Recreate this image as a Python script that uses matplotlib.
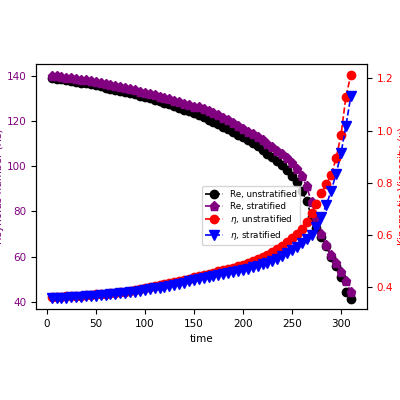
import matplotlib
matplotlib.use("Agg")
import matplotlib.pyplot as plt

# ----------------------------
# Data
# ----------------------------
time = list(range(5, 311, 5))

re_unstrat = [139.0, 138.7, 138.4, 138.1, 137.8, 137.4, 137.0, 136.6, 136.2, 135.8,
              135.3, 134.8, 134.3, 133.8, 133.3, 132.8, 132.3, 131.8, 131.2, 130.6,
              130.0, 129.4, 128.7, 128.0, 127.3, 126.6, 125.8, 125.0, 124.2, 123.4,
              122.5, 121.6, 120.6, 119.6, 118.6, 117.5, 116.4, 115.2, 114.0, 112.8,
              111.5, 110.1, 108.7, 107.2, 105.6, 104.0, 102.2, 100.3, 98.2, 95.8,
              92.8, 89.2, 84.5, 77.6, 72.5, 68.5, 64.5, 60.0, 56.0, 51.0,
              44.4, 41.3]

re_strat = [140.0, 139.8, 139.5, 139.2, 138.9, 138.6, 138.3, 137.9, 137.5, 137.1,
            136.7, 136.3, 135.9, 135.5, 135.0, 134.5, 134.0, 133.5, 133.0, 132.5,
            132.0, 131.4, 130.8, 130.2, 129.6, 129.0, 128.4, 127.7, 127.0, 126.3,
            126.2, 125.4, 124.5, 123.6, 122.6, 121.5, 120.4, 119.2, 117.9, 116.5,
            115.3, 114.1, 112.8, 111.5, 110.0, 108.5, 106.9, 105.2, 103.4, 101.4,
            98.8, 95.5, 91.0, 84.0, 77.0, 70.0, 65.0, 60.6, 57.0, 53.0,
            49.0, 44.4]

eta_unstrat = [0.362, 0.363, 0.364, 0.365, 0.366, 0.367, 0.368, 0.370, 0.371, 0.373,
               0.374, 0.376, 0.378, 0.380, 0.382, 0.384, 0.386, 0.389, 0.392, 0.396,
               0.400, 0.404, 0.408, 0.412, 0.416, 0.420, 0.424, 0.428, 0.433, 0.440,
               0.444, 0.448, 0.452, 0.456, 0.461, 0.465, 0.470, 0.475, 0.480, 0.485,
               0.492, 0.499, 0.507, 0.515, 0.524, 0.535, 0.547, 0.560, 0.574, 0.588,
               0.605, 0.625, 0.651, 0.683, 0.720, 0.760, 0.795, 0.830, 0.894, 0.983,
               1.130, 1.213]

eta_strat = [0.358, 0.359, 0.360, 0.361, 0.362, 0.363, 0.364, 0.365, 0.366, 0.368,
             0.369, 0.371, 0.373, 0.375, 0.377, 0.379, 0.381, 0.384, 0.387, 0.390,
             0.393, 0.396, 0.399, 0.402, 0.406, 0.410, 0.414, 0.418, 0.423, 0.428,
             0.432, 0.436, 0.440, 0.444, 0.448, 0.452, 0.456, 0.460, 0.463, 0.466,
             0.471, 0.476, 0.482, 0.488, 0.495, 0.502, 0.510, 0.519, 0.530, 0.543,
             0.556, 0.570, 0.585, 0.600, 0.632, 0.670, 0.715, 0.770, 0.834, 0.913,
             1.018, 1.132]

# ----------------------------
# Plot
# ----------------------------
fig = plt.figure(figsize=(4, 4), dpi=100)
ax = fig.add_axes([0.09, 0.2275, 0.8275, 0.6125])
ax2 = ax.twinx()

l1, = ax.plot(time, re_unstrat, "--o", color="black", ms=6, lw=1.2, label="Re, unstratified")
l2, = ax.plot(time, re_strat, "--p", color="purple", ms=6.5, lw=1.2, label="Re, stratified")
l3, = ax2.plot(time, eta_unstrat, "--o", color="red", ms=6, lw=1.2, label=r"$\eta$, unstratified")
l4, = ax2.plot(time, eta_strat, "--v", color="blue", ms=6.5, lw=1.2, label=r"$\eta$, stratified")

ax.set_xlim(-10.9, 326.5)
ax.set_ylim(36.8, 145.2)
ax2.set_ylim(0.317, 1.255)
ax.set_xticks([0, 50, 100, 150, 200, 250, 300])
ax.set_yticks([40, 60, 80, 100, 120, 140])
ax2.set_yticks([0.4, 0.6, 0.8, 1.0, 1.2])

ax.set_xlabel("time", fontsize=7.5)
ax.set_ylabel("Reynolds number (Re)", color="purple", fontsize=7.5, labelpad=2)
ax2.set_ylabel(r"Kinematic Viscosity ($\nu$)", color="red", fontsize=7.5, labelpad=2)
ax.tick_params(labelsize=7.5)
ax.tick_params(axis="y", labelcolor="purple")
ax2.tick_params(axis="y", labelcolor="red", labelsize=7.5)

ax.legend(handles=[l1, l2, l3, l4], fontsize=6.3, loc="center",
          bbox_to_anchor=(0.65, 0.38), handlelength=2, borderpad=0.4,
          labelspacing=0.3)

fig.savefig("out.png", dpi=100)
